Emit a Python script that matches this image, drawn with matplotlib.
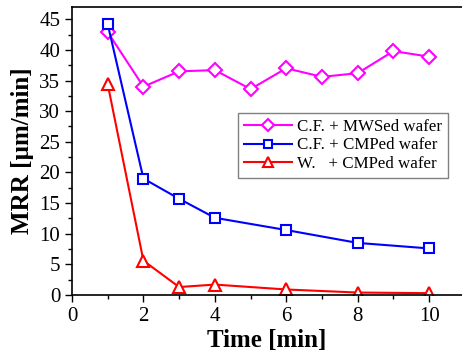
import matplotlib.pyplot as plt
from matplotlib.ticker import MultipleLocator

# data
time_cf_mws = [1, 2, 3, 4, 5, 6, 7, 8, 9, 10]
mrr_cf_mws = [42.9, 34.0, 36.5, 36.7, 33.6, 37.0, 35.6, 36.2, 39.8, 38.9]

time_cmp = [1, 2, 3, 4, 6, 8, 10]
mrr_cf_cmp = [44.2, 19.0, 15.7, 12.6, 10.6, 8.5, 7.6]
mrr_w_cmp = [34.4, 5.6, 1.3, 1.7, 0.9, 0.4, 0.3]

labels = ["C.F. + MWSed wafer", "C.F. + CMPed wafer", "W.   + CMPed wafer"]

plt.rcParams['font.family'] = ['Liberation Serif', 'DejaVu Serif']

fig = plt.figure(figsize=(4.62, 3.56), dpi=100)
ax = fig.add_axes([72 / 462, 61 / 356, 390 / 462, 288 / 356])

ax.plot(time_cf_mws, mrr_cf_mws, color='#ff00ff', marker='D', ms=7, mfc='white',
        mew=1.5, lw=1.5, label=labels[0])
ax.plot(time_cmp, mrr_cf_cmp, color='#0000ff', marker='s', ms=7, mfc='white',
        mew=1.5, lw=1.5, label=labels[1])
ax.plot(time_cmp, mrr_w_cmp, color='#ff0000', marker='^', ms=9, mfc='white',
        mew=1.5, lw=1.5, label=labels[2])

ax.set_xlim(0, 10.92)
ax.set_ylim(0, 47)
ax.xaxis.set_major_locator(MultipleLocator(2))
ax.xaxis.set_minor_locator(MultipleLocator(1))
ax.yaxis.set_major_locator(MultipleLocator(5))
ax.yaxis.set_minor_locator(MultipleLocator(2.5))
ax.tick_params(which='major', direction='out', length=5, width=1, labelsize=15)
ax.tick_params(which='minor', direction='out', length=3, width=1)
ax.spines['right'].set_visible(False)
for s in ['left', 'bottom', 'top']:
    ax.spines[s].set_linewidth(1.2)

ax.set_xlabel("Time [min]", fontsize=18, fontweight='bold', labelpad=2)
ax.set_ylabel("MRR [\u00b5m/min]", fontsize=18, fontweight='bold', labelpad=4)

leg = ax.legend(loc='upper left', bbox_to_anchor=(0.426, 0.632), borderaxespad=0,
                fontsize=12.2, fancybox=False, edgecolor='gray', framealpha=1,
                handlelength=2.8, borderpad=0.35, labelspacing=0.15,
                handletextpad=0.3, markerscale=0.85)
leg.get_frame().set_linewidth(1)

fig.savefig("out.png", dpi=100)
